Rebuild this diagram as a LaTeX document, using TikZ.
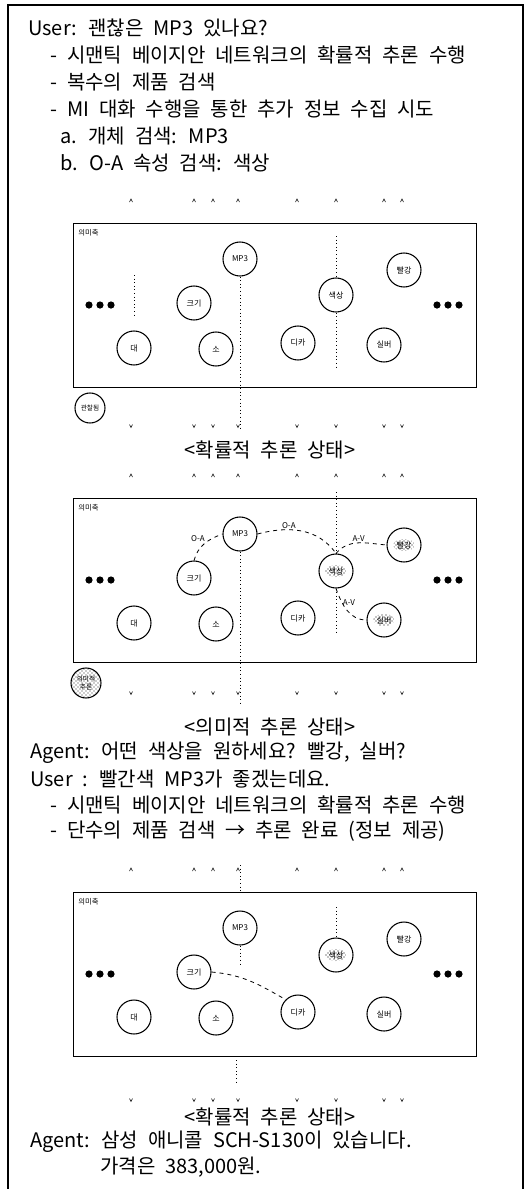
\documentclass[tikz,border=0pt]{standalone}
\usepackage{fontspec}
\setmainfont{Noto Sans CJK KR}[WordSpace=2.2]
\usetikzlibrary{patterns}
\tikzset{
 txt/.style={anchor=west, inner sep=0pt, font=\fontsize{15}{18}\selectfont},
 captxt/.style={anchor=center, inner sep=0pt, font=\fontsize{15}{18}\selectfont},
 frameline/.style={line width=0.8pt},
 netbox/.style={draw, line width=0.8pt, anchor=north west, minimum width=302.25pt, minimum height=123pt, inner sep=0pt},
 cnode/.style={circle, draw, line width=0.8pt, minimum size=25.5pt, inner sep=0pt, font=\fontsize{6}{7}\selectfont},
 legnode/.style={cnode, minimum size=22.5pt, font=\fontsize{5}{5.5}\selectfont, align=center},
 hatchtext/.style={path picture={\fill[pattern=crosshatch dots, pattern color=black] (path picture bounding box.center) ellipse [x radius=8pt, y radius=4.5pt];}},
 hatchall/.style={pattern=crosshatch dots, pattern color=black!85},
 vdot/.style={dotted, line width=0.7pt},
 rel/.style={dashed, line width=0.6pt},
 rlab/.style={font=\fontsize{6}{7}\selectfont, inner sep=0.5pt},
 tk/.style={line width=0.4pt},
 boxlab/.style={font=\fontsize{5.5}{6}\selectfont, anchor=north west, inner sep=0pt},
}
% #1 prefix, #2 y offset, #3 #4 #5 extra styles, #6 y of the colour node
\newcommand\semnet[6]{%
\begin{scope}[shift={(0,#2)}]
 \node[netbox] (#1box) at (73,0) {};
 \node[boxlab] (#1lab) at (78,6) {의미축};
 \node[cnode] (#1mp3) at (240,36) {MP3};
 \node[cnode] (#1siz) at (194,80) {크기};
 \node[cnode,#3] (#1col) at (336,#6) {색상};
 \node[cnode,#4] (#1red) at (404,47) {빨강};
 \node[cnode] (#1big) at (134,125) {대};
 \node[cnode] (#1sml) at (216,126) {소};
 \node[cnode] (#1dik) at (298,120) {디카};
 \node[cnode,#5] (#1sil) at (384,122) {실버};
 \foreach \dx in {-11,0,11} {\fill (100+\dx,82) circle[radius=2.7pt]; \fill (448+\dx,82) circle[radius=2.7pt];}
 \foreach \tx in {131,194,213,238,297,336,384,402} {\draw[tk] (\tx-1.5,-21) -- (\tx,-24) -- (\tx+1.5,-21);}
\end{scope}}
\newcommand\downticks[1]{\foreach \tx in {131,194,213,238,297,336,384,402} {\draw[tk] (\tx-1.5,#1-1.5) -- (\tx,#1+1.5) -- (\tx+1.5,#1-1.5);}}
\begin{document}
\begin{tikzpicture}[x=0.75pt,y=-0.75pt]
\useasboundingbox (0,0) rectangle (528,1189);
\draw[frameline] (8,1189) -- (8,5) -- (523,5) -- (523,1189);
% top text
\node[txt] (l1) at (28,28) {User: 괜찮은 MP3 있나요?};
\node[txt] (l2) at (50,55) {- 시맨틱 베이지안 네트워크의 확률적 추론 수행};
\node[txt] (l3) at (50,82) {- 복수의 제품 검색};
\node[txt] (l4) at (50,109) {- MI 대화 수행을 통한 추가 정보 수집 시도};
\node[txt] (l5) at (60,136) {a. 개체 검색: MP3};
\node[txt] (l6) at (60,163) {b. O-A 속성 검색: 색상};
% diagram 1
\semnet{d1}{223}{}{}{}{72}
\coordinate (d1v1) at (240,428);
\draw[vdot] (d1mp3.south) -- (d1v1);
\coordinate (d1v2) at (336,236);
\draw[vdot] (d1v2) -- (d1col.north);
\coordinate (d1v3) at (336,368);
\draw[vdot] (d1col.south) -- (d1v3);
\coordinate (d1v4) at (134,275);
\coordinate (d1v5) at (134,315);
\draw[vdot] (d1v4) -- (d1v5);
\node[legnode] (d1leg) at (90,408) {관찰됨};
\downticks{426}
\node[captxt] (c1) at (270,450) {<확률적 추론 상태>};
% diagram 2
\semnet{d2}{498}{hatchtext}{hatchtext}{hatchtext}{73}
\coordinate (d2v1) at (336,492);
\draw[vdot] (d2v1) -- (d2col.north);
\coordinate (d2v2) at (336,635);
\draw[vdot] (d2col.south) -- (d2v2);
\coordinate (d2v3) at (240,703);
\draw[vdot] (d2mp3.south) -- (d2v3);
\draw[rel] (d2siz.north) to[out=75,in=200] node[rlab, above left, pos=0.55]{O-A} (d2mp3.west);
\draw[rel] (d2mp3.east) to[out=15,in=125] node[rlab, above, pos=0.35]{O-A} (d2col.north);
\draw[rel] (d2col.north) to[out=50,in=175] node[rlab, above, pos=0.5]{A-V} (d2red.west);
\draw[rel] (d2col.south) to[out=-70,in=180] node[rlab, right, pos=0.3]{A-V} (d2sil.west);
\node[legnode, hatchall] (d2leg) at (86,683) {의미적\\추론};
\downticks{693}
\node[captxt] (c2) at (270,727) {<의미적 추론 상태>};
% middle text
\node[txt] (m1) at (30,753) {Agent: 어떤 색상을 원하세요? 빨강, 실버?};
\node[txt] (m2) at (30,779) {User : 빨간색 MP3가 좋겠는데요.};
\node[txt] (m3) at (50,805) {- 시맨틱 베이지안 네트워크의 확률적 추론 수행};
\node[txt] (m4) at (50,831) {- 단수의 제품 검색 → 추론 완료 (정보 제공)};
% diagram 3
\semnet{d3}{892}{hatchtext}{}{}{63}
\coordinate (d3v1) at (240,865);
\coordinate (d3v2) at (240,892);
\draw[vdot] (d3v1) -- (d3v2);
\coordinate (d3v3) at (240,967);
\draw[vdot] (d3mp3.south) -- (d3v3);
\coordinate (d3v4) at (336,907);
\draw[vdot] (d3v4) -- (d3col.north);
\coordinate (d3v5) at (236,1060);
\coordinate (d3v6) at (236,1085);
\draw[vdot] (d3v5) -- (d3v6);
\draw[rel] (d3siz.east) to[out=-5,in=150] (d3dik.north west);
\downticks{1100}
\node[captxt] (c3) at (270,1117) {<확률적 추론 상태>};
% bottom text
\node[txt] (b1) at (30,1142) {Agent: 삼성 애니콜 SCH-S130이 있습니다.};
\node[txt] (b2) at (100,1167) {가격은 383,000원.};
\end{tikzpicture}
\end{document}
